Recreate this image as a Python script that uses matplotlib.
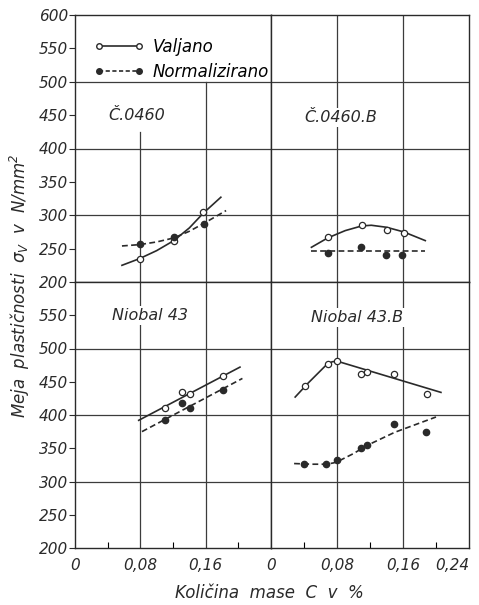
import numpy as np
import matplotlib
matplotlib.use("Agg")
import matplotlib.pyplot as plt
from matplotlib.lines import Line2D
from matplotlib.ticker import FixedLocator

# ---------------- data ----------------
# C.0460
c0460_v_x = [0.079, 0.121, 0.157]
c0460_v_y = [235, 262, 305]
c0460_n_x = [0.079, 0.121, 0.158]
c0460_n_y = [257, 267, 287]
c0460_vcurve_x = [0.0575, 0.079, 0.100, 0.121, 0.140, 0.157, 0.1786]
c0460_vcurve_y = [225, 235, 247, 262, 281, 303, 327]
c0460_ncurve_x = [0.0575, 0.079, 0.100, 0.121, 0.140, 0.158, 0.185]
c0460_ncurve_y = [254, 256, 260, 266, 276, 288, 307]

# C.0460.B
c0460b_v_x = [0.0687, 0.110, 0.140, 0.161]
c0460b_v_y = [268, 285, 278, 274]
c0460b_n_x = [0.0695, 0.109, 0.139, 0.159]
c0460b_n_y = [244, 252, 241, 241]
c0460b_vcurve_x = [0.049, 0.0687, 0.090, 0.110, 0.1216, 0.140, 0.161, 0.187]
c0460b_vcurve_y = [252, 266, 277, 284, 285, 282, 275, 262]
c0460b_ncurve_x = [0.049, 0.187]
c0460b_ncurve_y = [247, 247]

# Niobal 43
n43_v_x = [0.1105, 0.131, 0.141, 0.1815]
n43_v_y = [411, 434, 431, 458]
n43_n_x = [0.110, 0.131, 0.141, 0.1815]
n43_n_y = [393, 418, 411, 438]
n43_vcurve_x = [0.078, 0.202]
n43_vcurve_y = [392, 472]
n43_ncurve_x = [0.082, 0.205]
n43_ncurve_y = [375, 455]

# Niobal 43.B
n43b_v_x = [0.0408, 0.0688, 0.080, 0.1088, 0.1169, 0.149, 0.1889]
n43b_v_y = [444, 477, 481, 461, 465, 461, 431]
n43b_n_x = [0.0395, 0.067, 0.080, 0.1088, 0.116, 0.149, 0.1878]
n43b_n_y = [326, 326, 332, 350, 355, 386, 375]
n43b_vcurve_x = [0.0293, 0.045, 0.066, 0.074, 0.080, 0.206]
n43b_vcurve_y = [427, 448, 474, 480, 481, 434]
n43b_ncurve_x = [0.028, 0.050, 0.067, 0.076, 0.084, 0.100, 0.116, 0.150, 0.200]
n43b_ncurve_y = [327, 326, 326, 328, 332, 342, 354, 374, 397]

panel_names = ["Č.0460", "Č.0460.B", "Niobal 43", "Niobal 43.B"]
legend_labels = ["Valjano", "Normalizirano"]
y_ticks_top = [200, 250, 300, 350, 400, 450, 500, 550, 600]
y_ticks_bottom = [200, 250, 300, 350, 400, 450, 500, 550]
x_ticks_left = [0, 0.08, 0.16]
x_ticklabels_left = ["0", "0,08", "0,16"]
x_ticks_right = [0, 0.08, 0.16, 0.24]
x_ticklabels_right = ["0", "0,08", "0,16", "0,24"]
x_minor = [0.04, 0.12, 0.20]
ylabel = "Meja  plastičnosti  $\\sigma_V$  v  N/mm$^2$"
xlabel = "Količina  mase  C  v  %"

# ---------------- style ----------------
plt.rcParams["font.family"] = ["DejaVu Sans"]
plt.rcParams["font.style"] = "italic"
plt.rcParams["mathtext.fontset"] = "dejavusans"
INK = "#2a2a2a"
GRID = "#3c3c3c"
FS = 11

fig = plt.figure(figsize=(4.79, 6.05), dpi=100)
L, M, R = 75 / 479, 271 / 479, 469 / 479
T, H, B = 1 - 15 / 605, 1 - 282 / 605, 1 - 548 / 605

ax_tl = fig.add_axes([L, H, M - L, T - H])
ax_tr = fig.add_axes([M, H, R - M, T - H])
ax_bl = fig.add_axes([L, B, M - L, H - B])
ax_br = fig.add_axes([M, B, R - M, H - B])

for ax in (ax_tl, ax_tr, ax_bl, ax_br):
    ax.set_xlim(0, 0.24)
    ax.set_ylim(200, 600)
    for s in ax.spines.values():
        s.set_color(INK)
        s.set_linewidth(1.0)
    ax.tick_params(colors=INK)
    for yv in (300, 400, 500):
        ax.axhline(yv, color=GRID, lw=0.9, zorder=1)

# vertical grid lines (top-left panel keeps the legend area free of them)
ax_tl.axvline(0.08, ymax=0.56, color=GRID, lw=0.9, zorder=1)
ax_tl.axvline(0.16, ymax=0.75, color=GRID, lw=0.9, zorder=1)
for ax in (ax_tr, ax_bl, ax_br):
    for xv in (0.08, 0.16):
        ax.axvline(xv, color=GRID, lw=0.9, zorder=1)


def draw(ax, vx, vy, nx, ny, vcx, vcy, ncx, ncy):
    ax.plot(vcx, vcy, color=INK, lw=1.2, ls="-", zorder=3)
    ax.plot(ncx, ncy, color=INK, lw=1.2, ls=(0, (3.5, 2)), zorder=3)
    ax.plot(vx, vy, ls="none", marker="o", ms=4.5, mfc="white", mec=INK, mew=0.9, zorder=4)
    ax.plot(nx, ny, ls="none", marker="o", ms=4.5, mfc=INK, mec=INK, zorder=4)


draw(ax_tl, c0460_v_x, c0460_v_y, c0460_n_x, c0460_n_y,
     c0460_vcurve_x, c0460_vcurve_y, c0460_ncurve_x, c0460_ncurve_y)
draw(ax_tr, c0460b_v_x, c0460b_v_y, c0460b_n_x, c0460b_n_y,
     c0460b_vcurve_x, c0460b_vcurve_y, c0460b_ncurve_x, c0460b_ncurve_y)
draw(ax_bl, n43_v_x, n43_v_y, n43_n_x, n43_n_y,
     n43_vcurve_x, n43_vcurve_y, n43_ncurve_x, n43_ncurve_y)
draw(ax_br, n43b_v_x, n43b_v_y, n43b_n_x, n43b_n_y,
     n43b_vcurve_x, n43b_vcurve_y, n43b_ncurve_x, n43b_ncurve_y)

# panel titles
label_kw = dict(fontsize=11.5, color=INK, ha="center", va="center", zorder=5,
                bbox=dict(facecolor="white", edgecolor="none", pad=1.5))
ax_tl.text(0.076, 450, panel_names[0], **label_kw)
ax_tr.text(0.085, 447, panel_names[1], **label_kw)
ax_bl.text(0.092, 550, panel_names[2], **label_kw)
ax_br.text(0.104, 546, panel_names[3], **label_kw)

# ticks
for ax in (ax_tl, ax_tr):
    ax.set_xticks([])
for ax in (ax_tr, ax_br):
    ax.set_yticks([])

ax_tl.set_yticks(y_ticks_top)
ax_tl.set_yticklabels([str(v) for v in y_ticks_top])
ax_bl.set_yticks(y_ticks_bottom)
ax_bl.set_yticklabels([str(v) for v in y_ticks_bottom])
for ax in (ax_tl, ax_bl):
    ax.tick_params(axis="y", direction="out", length=4, width=0.8, pad=1, labelsize=FS)

ax_bl.set_xticks(x_ticks_left)
ax_bl.set_xticklabels(x_ticklabels_left)
ax_br.set_xticks(x_ticks_right)
ax_br.set_xticklabels(x_ticklabels_right)
for ax in (ax_bl, ax_br):
    ax.xaxis.set_minor_locator(FixedLocator(x_minor))
    ax.tick_params(axis="x", which="major", length=0, pad=7, labelsize=FS)
    ax.tick_params(axis="x", which="minor", direction="in", length=4, width=0.8)
ax_br.get_xticklabels()[-1].set_horizontalalignment("right")

# legend
handles = [
    Line2D([], [], color=INK, lw=1.2, ls="-", marker="o", ms=4, mfc="white", mec=INK),
    Line2D([], [], color=INK, lw=1.2, ls=(0, (2.5, 1.5)), marker="o", ms=4, mfc=INK, mec=INK),
]
fig.legend(handles, legend_labels, numpoints=2, loc="upper left",
           bbox_to_anchor=(94 / 479, 1 - 38 / 605), frameon=False,
           handlelength=3.0, handletextpad=0.5, labelspacing=0.4,
           borderpad=0, borderaxespad=0, prop=dict(size=12, style="italic"))

fig.text(20 / 479, 1 - 286 / 605, ylabel, rotation=90, ha="center", va="center",
         fontsize=12, color=INK)
fig.text(269 / 479, 1 - 593 / 605, xlabel, ha="center", va="center",
         fontsize=12, color=INK)

fig.savefig("out.png", dpi=100, facecolor="white")
